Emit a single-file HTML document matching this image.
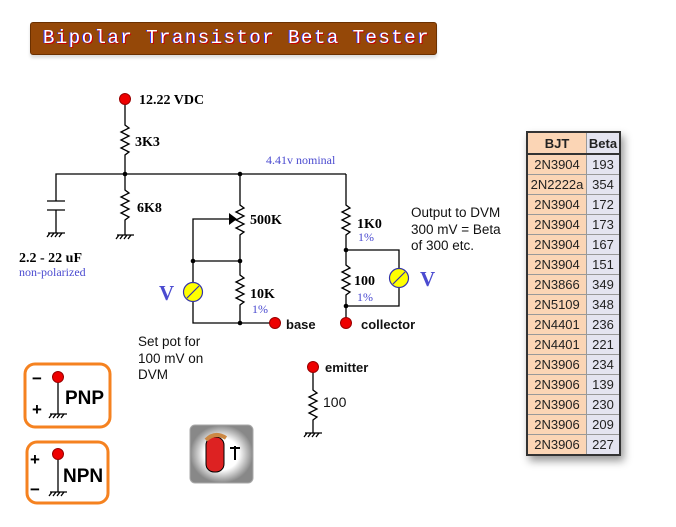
<!DOCTYPE html>
<html><head><style>
body{margin:0;background:#fff;width:676px;height:527px;overflow:hidden;position:relative;font-family:"Liberation Sans",sans-serif}
.title{position:absolute;left:30px;top:22px;width:405px;height:31px;background:#954808;border:1px solid #6b3000;border-radius:3px;box-shadow:0 3px 3px #ddd}
.title span{position:absolute;left:12px;top:4px;white-space:nowrap;color:#fff;font:19px "Liberation Mono",monospace;letter-spacing:1.5px;text-shadow:1px 1px 0 #c00,-1px 0 0 #33f}
table{position:absolute;left:526px;top:131px;border-collapse:collapse;font:13px "Liberation Sans",sans-serif;box-shadow:3px 5px 8px #999}
td{border:1px solid #999;height:19px;padding:0;text-align:center;color:#222}
td.a{background:#fbd5b5;width:58px}td.b{background:#e4e4f0;width:32px}
table{border:2px solid #333}
tr.h td{font-weight:bold;height:20px;border-bottom:2px solid #333}
</style></head><body>
<div class="title"><span>Bipolar Transistor Beta Tester</span></div>
<svg width="676" height="527" style="position:absolute;left:0;top:0" font-family="Liberation Serif,serif">
<g stroke="#000" stroke-width="1.3" fill="none">
<path d="M125 99V125l4 3-8 4 8 4-8 4 8 4-8 4 8 4-4 3V174"/>
<path d="M56 233V210M47 210H65M47 201H65M56 201V174H346"/>
<path d="M125 174V190l4 3-8 4 8 4-8 4 8 4-8 4 8 4-4 3V235"/>
<path d="M240 174V205l4 3-8 4 8 4-8 4 8 4-8 4 8 4-4 3V275l4 3-8 4 8 4-8 4 8 4-8 4 8 4-4 3V323H275"/>
<path d="M229 219H193V282M193 261H240M193 302V323H240"/>
<path d="M346 174V205l4 3-8 4 8 4-8 4 8 4-8 4 8 4-4 3V265l4 3-8 4 8 4-8 4 8 4-8 4 8 4-4 3V323"/>
<path d="M346 250H399V268M399 288V306H346"/>
<path d="M313 367V390l4 3-8 4 8 4-8 4 8 4-8 4 8 4-4 3V433"/>
<path d="M117 235H134M119 235l-3 4M123 235l-3 4M127 235l-3 4M131 235l-3 4"/>
<path d="M48 233H65M50 233l-3 4M54 233l-3 4M58 233l-3 4M62 233l-3 4"/>
<path d="M305 433H322M307 433l-3 4M311 433l-3 4M315 433l-3 4M319 433l-3 4"/>
<path d="M58 382V414M50 414H67M52 414l-3 4M56 414l-3 4M60 414l-3 4M64 414l-3 4"/>
<path d="M58 459V492M50 492H67M52 492l-3 4M56 492l-3 4M60 492l-3 4M64 492l-3 4"/>
</g>
<path d="M229 213L237 219L229 225Z" fill="#000"/>
<g fill="#000"><circle cx="125" cy="174" r="2.3"/><circle cx="240" cy="174" r="2.3"/><circle cx="193" cy="261" r="2.3"/><circle cx="240" cy="261" r="2.3"/><circle cx="240" cy="323" r="2.3"/><circle cx="346" cy="250" r="2.3"/><circle cx="346" cy="306" r="2.3"/></g>
<g fill="#e00" stroke="#900"><circle cx="125" cy="99" r="5.5"/><circle cx="275" cy="323" r="5.5"/><circle cx="346" cy="323" r="5.5"/><circle cx="313" cy="367" r="5.5"/><circle cx="58" cy="377" r="5.5"/><circle cx="58" cy="454" r="5.5"/></g>
<g fill="#ff0" stroke="#33a" stroke-width="1.2"><circle cx="193" cy="292" r="9.5"/><circle cx="399" cy="278" r="9.5"/></g>
<path d="M187 298L199 286M393 284L405 272" stroke="#33a" stroke-width="1.2"/>
<g font-weight="bold" font-size="14" fill="#000">
<text x="139" y="104">12.22 VDC</text><text x="135" y="146">3K3</text><text x="137" y="212">6K8</text>
<text x="250" y="224">500K</text><text x="250" y="298">10K</text><text x="357" y="228">1K0</text><text x="354" y="285">100</text>
<text x="19" y="262">2.2 - 22 uF</text>
</g>
<g fill="#4b4bd0" font-size="12"><text x="266" y="164">4.41v nominal</text><text x="19" y="276">non-polarized</text>
<text x="252" y="313">1%</text><text x="358" y="241">1%</text><text x="357" y="301">1%</text></g>
<g fill="#4b4bd0" font-size="21" font-weight="bold"><text x="159" y="300">V</text><text x="420" y="286">V</text></g>
<g font-family="Liberation Sans,sans-serif" font-size="13.5" fill="#111">
<text x="411" y="217">Output to DVM</text><text x="411" y="234">300 mV = Beta</text><text x="411" y="250">of 300 etc.</text>
<text x="138" y="346">Set pot for</text><text x="138" y="363">100 mV on</text><text x="138" y="379">DVM</text>
<g font-weight="bold" font-size="13"><text x="286" y="329">base</text><text x="361" y="329">collector</text><text x="325" y="372">emitter</text></g>
<text x="323" y="407" font-size="14">100</text>
</g>
<g fill="none" stroke="#f58220" stroke-width="3"><rect x="25" y="364" width="85" height="63" rx="10"/><rect x="27" y="442" width="81" height="61" rx="10"/></g>
<g font-family="Liberation Sans,sans-serif" font-weight="bold" fill="#000">
<text x="65" y="404" font-size="19">PNP</text><text x="63" y="482" font-size="19">NPN</text>
<text x="32" y="384" font-size="17">−</text><text x="32" y="415" font-size="17">+</text>
<text x="30" y="465" font-size="17">+</text><text x="30" y="495" font-size="17">−</text>
</g>
<defs><radialGradient id="g"><stop offset="0.55" stop-color="#fff"/><stop offset="1" stop-color="#888"/></radialGradient></defs>
<rect x="190" y="425" width="63" height="58" rx="5" fill="url(#g)" stroke="#aaa"/>
<rect x="206" y="437" width="18" height="35" rx="8" fill="#d22" stroke="#000"/>
<path d="M206 440Q215 431 226 438" stroke="#c84" stroke-width="4" fill="none"/>
<path d="M230 448H240M235 446V460" stroke="#000" stroke-width="2"/>
</svg>
<table>
<tr class="h"><td class="a">BJT</td><td class="b">Beta</td></tr>
<tr><td class="a">2N3904</td><td class="b">193</td></tr>
<tr><td class="a">2N2222a</td><td class="b">354</td></tr>
<tr><td class="a">2N3904</td><td class="b">172</td></tr>
<tr><td class="a">2N3904</td><td class="b">173</td></tr>
<tr><td class="a">2N3904</td><td class="b">167</td></tr>
<tr><td class="a">2N3904</td><td class="b">151</td></tr>
<tr><td class="a">2N3866</td><td class="b">349</td></tr>
<tr><td class="a">2N5109</td><td class="b">348</td></tr>
<tr><td class="a">2N4401</td><td class="b">236</td></tr>
<tr><td class="a">2N4401</td><td class="b">221</td></tr>
<tr><td class="a">2N3906</td><td class="b">234</td></tr>
<tr><td class="a">2N3906</td><td class="b">139</td></tr>
<tr><td class="a">2N3906</td><td class="b">230</td></tr>
<tr><td class="a">2N3906</td><td class="b">209</td></tr>
<tr><td class="a">2N3906</td><td class="b">227</td></tr>
</table>
</body></html>
